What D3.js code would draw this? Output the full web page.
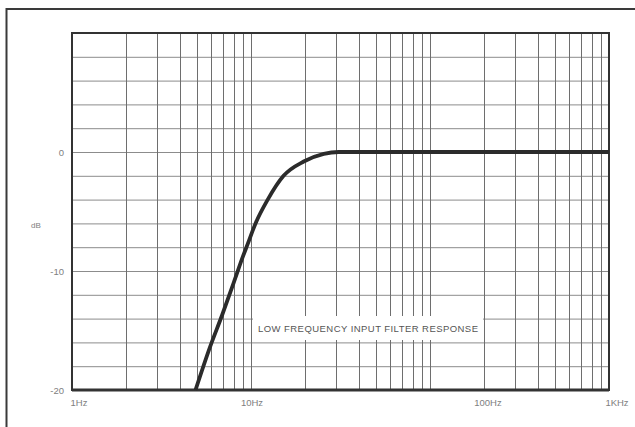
<!DOCTYPE html>
<html>
<head>
<meta charset="utf-8">
<script src="https://cdn.jsdelivr.net/npm/d3@7"></script>
<style>
  html, body { margin: 0; padding: 0; background: #fff; }
  svg { display: block; }
</style>
</head>
<body>
<svg id="chart" width="635" height="427"></svg>
<script>
// 読み取った応答曲線 (Hz, dB)
const freqHz = [4.9, 5.9, 6.9, 8.0, 8.9, 9.6, 10.6, 12.4, 15.2, 19.7, 25.5, 31, 100, 1000];
const gainDb = [-20, -16.4, -13.7, -11.0, -9.0, -7.7, -6.0, -4.0, -2.0, -0.8, -0.15, 0, 0, 0];

// 軸ラベル
const xTickValues = [1, 10, 100, 1000];
const xTickLabels = ["1Hz", "10Hz", "100Hz", "1KHz"];
const yTickValues = [0, -10, -20];
const yTickLabels = ["0", "-10", "-20"];
const yUnit = "dB";
const title = "LOW FREQUENCY INPUT FILTER RESPONSE";

const svg = d3.select('#chart');
const margin = { left: 72, top: 33, right: 26, bottom: 37 };
const width = 635, height = 427;

const x = d3.scaleLog().domain([1, 1000]).range([margin.left, width - margin.right]);
const y = d3.scaleLinear().domain([-20, 10]).range([height - margin.bottom, margin.top]);

// 外枠 (右と下は画面外)
svg.append('rect')
    .attr('x', 6.5).attr('y', 9)
    .attr('width', 660).attr('height', 440)
    .attr('fill', 'none')
    .attr('stroke', '#3a3a3a')
    .attr('stroke-width', 2);

const g = svg.append('g');

// 横グリッド (2dB毎)
g.append('g')
    .selectAll('line')
    .data(d3.range(-18, 10, 2))
    .enter()
    .append('line')
    .attr('x1', x.range()[0]).attr('x2', x.range()[1])
    .attr('y1', d => y(d) + 0.5).attr('y2', d => y(d) + 0.5)
    .attr('stroke', '#8c8c8c')
    .attr('stroke-width', 1);

// 縦グリッド (対数)
g.append('g')
    .selectAll('line')
    .data(x.ticks().filter(d => d > 1 && d < 1000))
    .enter()
    .append('line')
    .attr('x1', d => Math.round(x(d)) + 0.5).attr('x2', d => Math.round(x(d)) + 0.5)
    .attr('y1', y.range()[1]).attr('y2', y.range()[0])
    .attr('stroke', '#6e6e6e')
    .attr('stroke-width', 1);

// タイトル (白い背景付き)
g.append('rect')
    .attr('x', 253).attr('y', 316)
    .attr('width', 230).attr('height', 24)
    .attr('fill', '#fff');
g.append('text')
    .attr('x', 258).attr('y', 332)
    .attr('textLength', 220)
    .attr('lengthAdjust', 'spacing')
    .style('font-family', 'Liberation Sans, Arial, sans-serif')
    .style('font-size', '9.5px')
    .style('fill', '#555')
    .text(title);

// プロット枠
g.append('rect')
    .attr('x', x.range()[0]).attr('y', y.range()[1])
    .attr('width', x.range()[1] - x.range()[0])
    .attr('height', y.range()[0] - y.range()[1])
    .attr('fill', 'none')
    .attr('stroke', '#333')
    .attr('stroke-width', 2);
g.append('line')
    .attr('x1', x.range()[0]).attr('x2', x.range()[1])
    .attr('y1', y(-20)).attr('y2', y(-20))
    .attr('stroke', '#333')
    .attr('stroke-width', 3);

// 応答曲線
const points = freqHz.map((f, i) => [f, gainDb[i]]);
const line = d3.line()
    .x(d => x(d[0]))
    .y(d => y(d[1]))
    .curve(d3.curveMonotoneX);
g.append('path')
    .attr('d', line(points))
    .attr('fill', 'none')
    .attr('stroke', '#2b2b2b')
    .attr('stroke-width', 3.8);

// 軸ラベル
const labelStyle = sel => sel
    .style('font-family', 'Liberation Sans, Arial, sans-serif')
    .style('font-size', '9.5px')
    .style('fill', '#808080');

// 元図のラベル位置のずれ
const xLabelOffset = [7, 1, 58, 8];
g.append('g')
    .selectAll('text')
    .data(xTickValues)
    .enter()
    .append('text')
    .attr('x', (d, i) => x(d) + xLabelOffset[i])
    .attr('y', 406)
    .attr('text-anchor', 'middle')
    .call(labelStyle)
    .text((d, i) => xTickLabels[i]);

g.append('g')
    .selectAll('text')
    .data(yTickValues)
    .enter()
    .append('text')
    .attr('x', 64)
    .attr('y', d => y(d) + 3.5)
    .attr('text-anchor', 'end')
    .call(labelStyle)
    .text((d, i) => yTickLabels[i]);

g.append('text')
    .attr('x', 31).attr('y', 228)
    .call(labelStyle)
    .style('font-size', '8px')
    .text(yUnit);
</script>
</body>
</html>
